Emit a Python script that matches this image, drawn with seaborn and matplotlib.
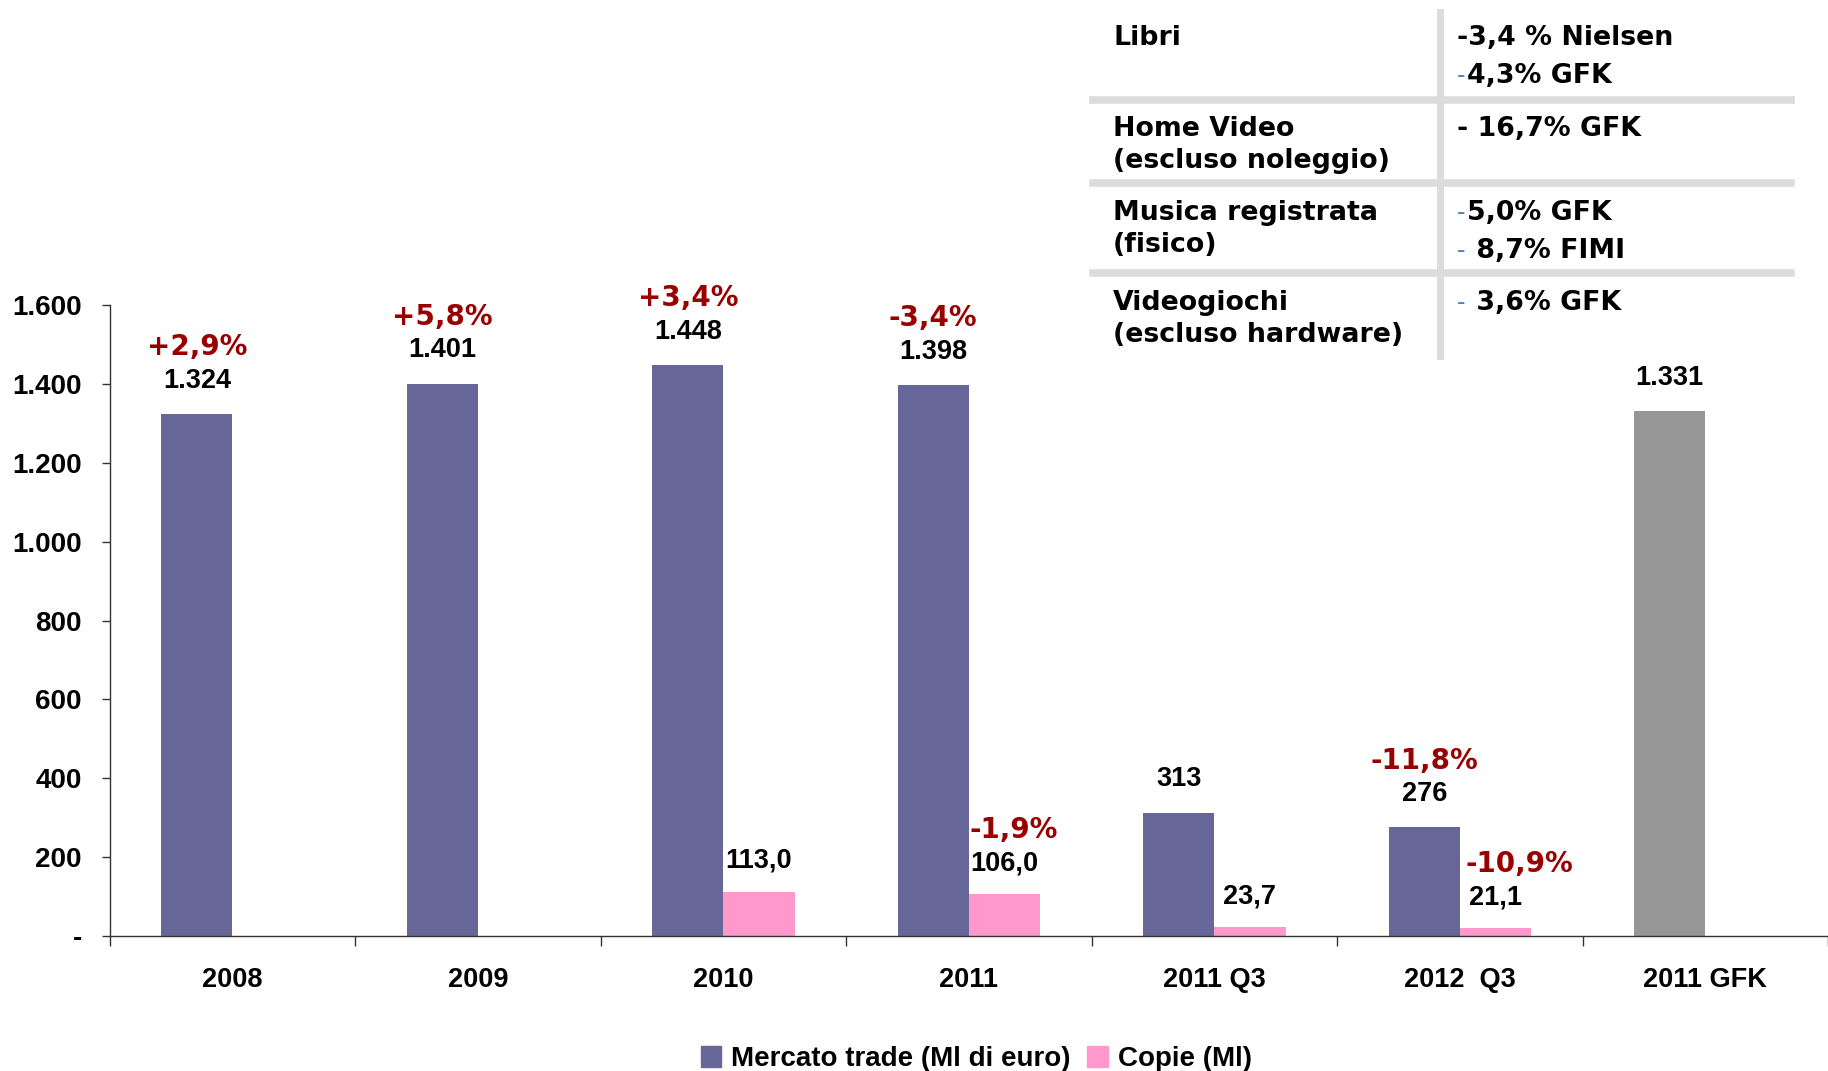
import numpy as np
import pandas as pd
import matplotlib
matplotlib.use("Agg")
import matplotlib.pyplot as plt
from matplotlib.lines import Line2D
from matplotlib.patches import Patch
import seaborn as sns

categories = ["2008", "2009", "2010", "2011", "2011 Q3", "2012  Q3", "2011 GFK"]
series = ["Mercato trade (Ml di euro)", "Copie (Ml)"]
mercato = [1324, 1401, 1448, 1398, 313, 276, 1331]
copie = [np.nan, np.nan, 113.0, 106.0, 23.7, 21.1, np.nan]
mercato_pct = ["+2,9%", "+5,8%", "+3,4%", "-3,4%", "", "-11,8%", ""]
copie_pct = ["", "", "", "-1,9%", "", "-10,9%", ""]
y_ticks = [0, 200, 400, 600, 800, 1000, 1200, 1400, 1600]
y_ticklabels = ["-", "200", "400", "600", "800", "1.000", "1.200", "1.400", "1.600"]

table_left = ["Libri", "Home Video\n(escluso noleggio)", "Musica registrata\n(fisico)", "Videogiochi\n(escluso hardware)"]
table_right = [["-3,4 % Nielsen", "-4,3% GFK"], ["- 16,7% GFK"], ["-5,0% GFK", "- 8,7% FIMI"], ["- 3,6% GFK"]]

purple = "#666699"
pink = "#FF99CC"
grey = "#969696"
red = "#990000"

df = pd.DataFrame({
    "cat": categories * 2,
    "serie": [series[0]] * len(categories) + [series[1]] * len(categories),
    "val": mercato + copie,
}).dropna()

W, H = 1828, 1071
fig = plt.figure(figsize=(W / 100, H / 100), dpi=100)
ax = fig.add_axes([0.06, 0.126, 0.94, 0.589])

sns.barplot(data=df, x="cat", y="val", hue="serie", order=categories, hue_order=series,
            palette=[purple, pink], width=0.58, saturation=1, errorbar=None, ax=ax)
ax.get_legend().remove()

# last purple bar is the GFK reference, drawn grey
ax.containers[0][6].set_facecolor(grey)

num_font = dict(family="Liberation Sans", weight="bold", fontsize=19.5)
pct_font = dict(family="DejaVu Sans", weight="bold", fontsize=20, color=red)

for bar, v, p in zip(ax.containers[0], mercato, mercato_pct):
    x = bar.get_x() + bar.get_width() / 2
    h = bar.get_height()
    ax.annotate(f"{v:,.0f}".replace(",", "."), (x, h), xytext=(0, 24), textcoords="offset points",
                ha="center", va="center", **num_font)
    if p:
        ax.annotate(p, (x, h), xytext=(0, 48), textcoords="offset points",
                    ha="center", va="center", **pct_font)

copie_vals = [v for v in copie if not np.isnan(v)]
copie_p = [p for v, p in zip(copie, copie_pct) if not np.isnan(v)]
copie_dx = [0, 7, 0, 17]
for bar, v, p, dx in zip(ax.containers[1], copie_vals, copie_p, copie_dx):
    x = bar.get_x() + bar.get_width() / 2
    h = bar.get_height()
    ax.annotate(f"{v:.1f}".replace(".", ","), (x, h), xytext=(0, 22), textcoords="offset points",
                ha="center", va="center", **num_font)
    if p:
        ax.annotate(p, (x, h), xytext=(dx, 46), textcoords="offset points",
                    ha="center", va="center", **pct_font)

ax.set_ylim(0, 1600)
ax.set_xlim(-0.5, 6.437)
ax.set_yticks(y_ticks)
ax.set_yticklabels(y_ticklabels, family="Liberation Sans", weight="bold", fontsize=20)
ax.set_xticks(range(len(categories)))
ax.set_xticklabels(categories, **num_font)
ax.set_xticks(np.arange(-0.5, 7, 1), minor=True)
ax.tick_params(axis="x", which="major", length=0, pad=22)
ax.tick_params(axis="x", which="minor", length=7, width=1, color="#333333")
ax.tick_params(axis="y", length=6, width=1, color="#333333", pad=14)
ax.set_xlabel("")
ax.set_ylabel("")
ax.set_facecolor("white")
for s in ["top", "right"]:
    ax.spines[s].set_visible(False)
for s in ["left", "bottom"]:
    ax.spines[s].set_color("#333333")
    ax.spines[s].set_linewidth(1)

fig.legend(handles=[Patch(color=purple), Patch(color=pink)], labels=series,
           loc="center", bbox_to_anchor=(0.534, 0.011), ncol=2, frameon=False,
           prop=dict(family="Liberation Sans", weight="bold", size=20),
           handlelength=0.75, handleheight=0.75, handletextpad=0.35, columnspacing=0.6)

# summary table, top right
line_col = "#DCDCDC"
for y in [100, 183, 273]:
    fig.add_artist(Line2D([1093 / W, 1791 / W], [1 - y / H, 1 - y / H], transform=fig.transFigure,
                          color=line_col, lw=5.5))
fig.add_artist(Line2D([1440 / W, 1440 / W], [1 - 12 / H, 1 - 356 / H], transform=fig.transFigure,
                      color=line_col, lw=5))

tab_font = dict(family="DejaVu Sans", weight="bold", fontsize=19.3)
row_y = [38, 129, 213, 303]
line_gap = 32
for ry, left, right in zip(row_y, table_left, table_right):
    for i, t in enumerate(left.split("\n")):
        fig.text(1113 / W, 1 - (ry + i * line_gap) / H, t, ha="left", va="center", **tab_font)
    for i, t in enumerate(right):
        yy = 1 - (ry + i * 38) / H
        if i > 0 or ry > 200:
            # leading dash drawn thin and blue
            fig.text(1457 / W, yy, "-", ha="left", va="center", color="#4F81BD",
                     family="DejaVu Sans", fontsize=17)
            fig.text(1467 / W, yy, t.lstrip("-"), ha="left", va="center", **tab_font)
        else:
            fig.text(1457 / W, yy, t, ha="left", va="center", **tab_font)

fig.savefig("out.png", dpi=100, facecolor="white")
